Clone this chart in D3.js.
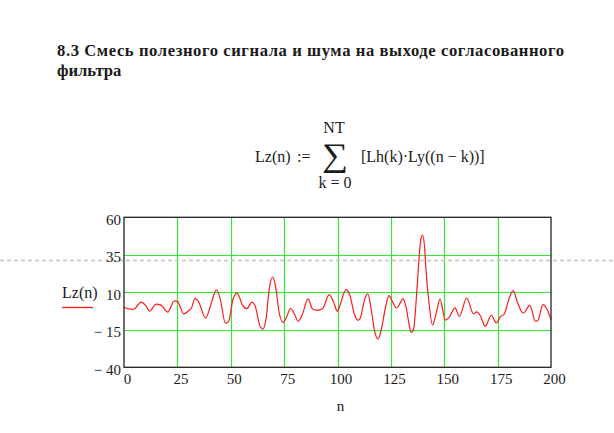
<!DOCTYPE html>
<html>
<head>
<meta charset="utf-8">
<script src="https://cdn.jsdelivr.net/npm/d3@7"></script>
<style>
  html, body { margin: 0; padding: 0; background: #ffffff; }
  svg { display: block; }
  text { font-family: "Liberation Serif", "Times New Roman", serif; fill: #1a1a1a; }
</style>
</head>
<body>
<script>
// ---- data ----
const titleLines = ["8.3 Смесь полезного сигнала и шума на выходе согласованного", "фильтра"];
const seriesName = "Lz(n)";
const xLabel = "n";
const xTicks = [0, 25, 50, 75, 100, 125, 150, 175, 200];
const yTicks = [-40, -15, 10, 35, 60];
const yTickLabels = ["− 40", "− 15", "10", "35", "60"];
const nValues = [0, 2, 4.5, 8, 10, 12, 15, 17.5, 20.5, 23.5, 25, 28, 30.5, 31.5, 33.3, 35, 38.2, 41, 43.3, 45,
  47.5, 49, 51, 53, 55.5, 57.5, 60, 61.5, 63.5, 65, 66.5, 68, 69.6, 71, 72.7, 74.5, 76, 78, 80, 81.5,
  83.5, 86.2, 88.3, 90.6, 93, 96.1, 98, 100, 101, 104, 105.7, 108, 109.6, 110.7, 112.7, 114.2, 115.8, 117.4, 119, 120.5,
  122.6, 124.1, 125.7, 127.5, 129.4, 130.6, 132.2, 133.4, 134.5, 135.6, 137.2, 138.2, 139, 139.8, 140.7, 141.5, 142.8, 144.5, 146.3, 148,
  150.5, 152.4, 155, 157.1, 160.5, 163.7, 165.2, 166.8, 169.2, 172, 174.4, 176.4, 177.9, 180.2, 182.3, 184.1, 187, 190.1, 192.7, 193.8,
  196.3, 198.2, 200];
const lzValues = [0, -1, -1.3, 3.5, 1.5, -2.5, 2.1, 1.3, -3.2, 4.3, 4, -4.4, -2, -0.8, 6, 3.5, -7.2, 3.3, 11.7, 6,
  -10.6, -9.5, 5, 9.5, 1.5, -0.9, 3.5, 0.6, -11.7, -14.5, -8, 12, 20.2, 14, -3.8, -10, -7, -0.8, -5, -9.3,
  -5, 5.6, -1.1, -2, -1, 8.4, 4, -2.7, 0.7, 11.8, 8.4, -5, -8.7, -7.1, 5.1, 8.9, -1.6, -16, -21.1, -14.9,
  0.7, 7.8, 4, -0.4, 2.9, 5.8, -0.4, -10.4, -16.7, -14.9, 11.8, 32.6, 45, 48.2, 41.5, 23.7, 3.7, -11.8, -3.5, 5.5,
  -8.5, -6.6, -0.4, -6, 6.2, -4.4, -3.1, -5.3, -12.7, -5.3, -10.4, -6, -4.9, 5.1, 11.1, 4, -3.8, 1.3, -9.3, -8.8,
  1.8, -1.5, -8.2];

const W = 614, H = 433;
const svg = d3.select("body").append("svg").attr("width", W).attr("height", H);

// title
const tl = svg.append("g").selectAll("text").data(titleLines).join("text")
  .attr("x", 57).attr("y", (d, i) => 56 + i * 20)
  .attr("font-size", 16.6).attr("font-weight", "bold").attr("fill", "#111")
  .text(d => d);
tl.filter((d, i) => i === 0).attr("textLength", 507).attr("lengthAdjust", "spacing");

// formula
const fs = 16;
const fg = svg.append("g").attr("font-size", fs);
fg.append("text").attr("x", 255).attr("y", 162).text("Lz(n)");
fg.append("text").attr("x", 297).attr("y", 162).text(":=");
const sig = fg.append("text").attr("x", 0).attr("y", 0).attr("font-size", 40).text("∑");
const bb = sig.node().getBBox();
const sx = 26 / bb.width, sy = 37 / bb.height;
sig.attr("transform", `translate(${322 - bb.x * sx},${136 - bb.y * sy}) scale(${sx},${sy})`);
fg.append("text").attr("x", 334).attr("y", 133).attr("text-anchor", "middle").text("NT");
fg.append("text").attr("x", 335).attr("y", 188).attr("text-anchor", "middle").text("k = 0");
fg.append("text").attr("x", 361).attr("y", 162).text("[Lh(k)·Ly((n − k))]");

// chart
const pLeft = 124, pRight = 551, pTop = 217.3, pBottom = 367.3;
const x = d3.scaleLinear().domain([0, 200]).range([pLeft, pRight]);
const y = d3.scaleLinear().domain([-40, 60]).range([pBottom, pTop]);

// grid
const grid = svg.append("g").attr("stroke", "#33e633").attr("stroke-width", 1.2);
grid.selectAll("line.v").data(xTicks.slice(1, -1)).join("line")
  .attr("x1", d => Math.round(x(d)) + 0.5).attr("x2", d => Math.round(x(d)) + 0.5)
  .attr("y1", pTop).attr("y2", pBottom);
grid.selectAll("line.h").data(yTicks.slice(1, -1)).join("line")
  .attr("y1", d => Math.round(y(d)) + 0.5).attr("y2", d => Math.round(y(d)) + 0.5)
  .attr("x1", pLeft).attr("x2", pRight);

// dashed page-break line
svg.append("line").attr("x1", 0).attr("x2", W).attr("y1", 260.5).attr("y2", 260.5)
  .attr("stroke", "#c4c4c4").attr("stroke-width", 1.3).attr("stroke-dasharray", "4,3");

// curve
const pts = nValues.map((n, i) => [n, lzValues[i]]);
const line = d3.line().x(d => x(d[0])).y(d => y(d[1])).curve(d3.curveMonotoneX);
svg.append("path").datum(pts).attr("d", line)
  .attr("fill", "none").attr("stroke", "#ff1a1a").attr("stroke-width", 1.2);

// frame
svg.append("rect").attr("x", pLeft).attr("y", pTop).attr("width", pRight - pLeft).attr("height", pBottom - pTop)
  .attr("fill", "none").attr("stroke", "#222").attr("stroke-width", 1.3);

// axes
const yAxis = d3.axisLeft(y).tickValues(yTicks).tickSize(0).tickPadding(3)
  .tickFormat((d, i) => yTickLabels[i]);
const gy = svg.append("g").attr("transform", `translate(${pLeft},0)`).call(yAxis);
gy.select(".domain").remove();
gy.selectAll("text").attr("font-size", 15).attr("font-family", "Liberation Serif").attr("fill", "#1a1a1a").attr("dy", "0.45em");

const xAxis = d3.axisBottom(x).tickValues(xTicks).tickSize(0).tickPadding(6);
const gx = svg.append("g").attr("transform", `translate(3,${pBottom})`).call(xAxis);
gx.select(".domain").remove();
gx.selectAll("text").attr("font-size", 15).attr("font-family", "Liberation Serif").attr("fill", "#1a1a1a");

svg.append("text").attr("x", x(100) + 3).attr("y", 411).attr("text-anchor", "middle")
  .attr("font-size", 15).text(xLabel);

// legend
svg.append("text").attr("x", 62).attr("y", 298).attr("font-size", 16).text(seriesName);
svg.append("line").attr("x1", 62).attr("x2", 93).attr("y1", 307.5).attr("y2", 307.5)
  .attr("stroke", "#ff1a1a").attr("stroke-width", 1.3);
</script>
</body>
</html>
